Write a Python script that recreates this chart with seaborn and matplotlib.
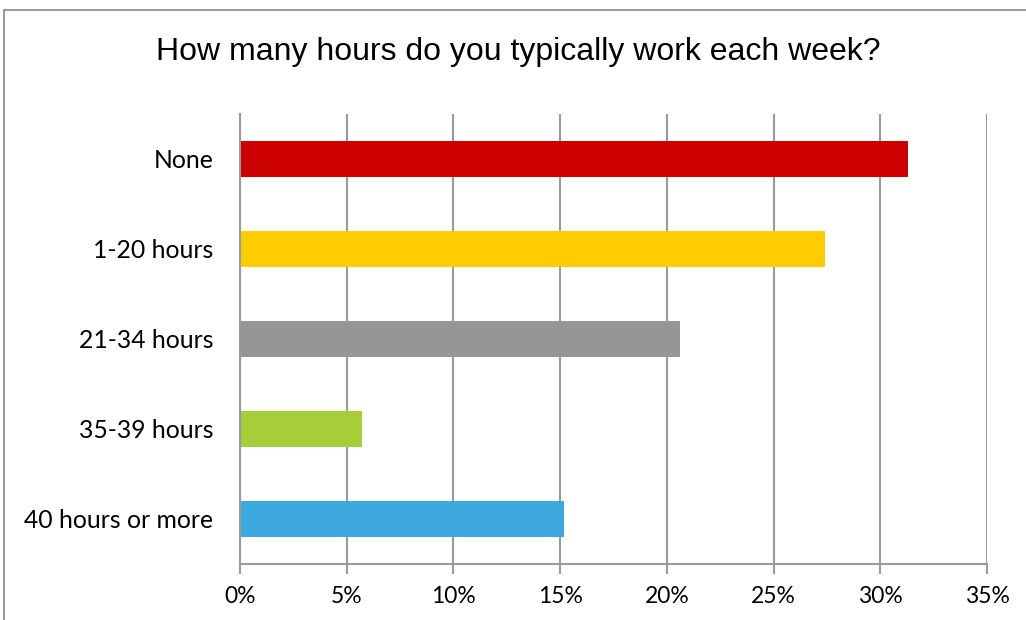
import matplotlib
matplotlib.use("Agg")
import matplotlib.pyplot as plt
import seaborn as sns
import pandas as pd
from matplotlib.lines import Line2D
from matplotlib.ticker import FuncFormatter, MultipleLocator

categories = ["None", "1-20 hours", "21-34 hours", "35-39 hours", "40 hours or more"]
values = [31.3, 27.4, 20.6, 5.7, 15.2]
colors = ["#CC0000", "#FFCC00", "#969696", "#A6CE39", "#3DA9E0"]
title = "How many hours do you typically work each week?"

df = pd.DataFrame({"category": categories, "value": values})

sns.set_theme(style="white")
plt.rcParams["font.family"] = ["Lato", "DejaVu Sans"]

fig = plt.figure(figsize=(10.26, 6.2), dpi=100)
ax = fig.add_axes([240/1026, 1-564/620, (987-240)/1026, (564-114)/620])

sns.barplot(data=df, x="value", y="category", hue="category", palette=colors,
            order=categories, hue_order=categories, legend=False, width=0.41,
            orient="h", ax=ax, saturation=1, linewidth=0)

ax.set_xlim(0, 35)
ax.set_ylim(4.5, -0.5)
ax.xaxis.set_major_locator(MultipleLocator(5))
ax.xaxis.set_major_formatter(FuncFormatter(lambda v, p: f"{int(round(v))}%"))
ax.grid(axis="x", color="#9a9a9a", linewidth=1.5)
ax.set_axisbelow(True)
ax.set_xlabel("")
ax.set_ylabel("")
for s in ["top", "right"]:
    ax.spines[s].set_visible(False)
ax.spines["left"].set_color("#9a9a9a")
ax.spines["left"].set_linewidth(1.5)
ax.spines["bottom"].set_color("#9a9a9a")
ax.spines["bottom"].set_linewidth(1.5)
ax.tick_params(axis="x", which="major", direction="out", length=7, width=1.5,
               color="#9a9a9a", bottom=True, labelsize=16.5, pad=9, labelcolor="black")
ax.tick_params(axis="y", left=False, labelsize=17.8, pad=13, labelcolor="black")

fig.text(518/1026, 1-52/620, title, ha="center", va="center", fontsize=23,
         family=["Liberation Sans", "DejaVu Sans"], color="black")

# outer frame (left and top edges)
fig.add_artist(Line2D([3.5/1026, 3.5/1026], [0, 1-10/620], transform=fig.transFigure,
                      color="#888888", linewidth=1.2))
fig.add_artist(Line2D([3.5/1026, 1], [1-10/620, 1-10/620], transform=fig.transFigure,
                      color="#888888", linewidth=1.2))

fig.savefig("out.png", dpi=100)
